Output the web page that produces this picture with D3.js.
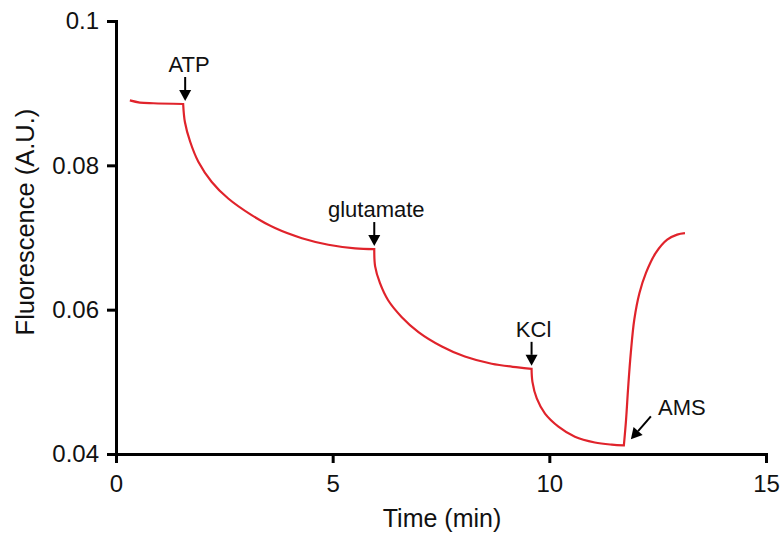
<!DOCTYPE html>
<html>
<head>
<meta charset="utf-8">
<script src="https://cdn.jsdelivr.net/npm/d3@7"></script>
<style>
  html, body { margin: 0; padding: 0; background: #fff; }
  svg { display: block; font-family: "Liberation Sans", Arial, Helvetica, sans-serif; }
</style>
</head>
<body>
<svg id="chart" width="781" height="533"></svg>
<script>
// Fluorescence trace (time in min, fluorescence in A.U.)
const timeMin = [
  0.32, 0.55, 0.86, 1.55,
  1.59, 1.71, 1.90, 2.21, 2.59, 3.13, 3.67, 4.29, 4.90, 5.52, 5.96,
  5.98, 6.09, 6.28, 6.59, 6.98, 7.52, 8.05, 8.67, 9.28, 9.59,
  9.61, 9.71, 9.90, 10.21, 10.59, 11.05, 11.44, 11.72,
  11.77, 11.82, 11.88, 11.96, 12.08, 12.23, 12.46, 12.72, 12.95, 13.13
];
const fluorescence = [
  0.0890, 0.0887, 0.0886, 0.0885,
  0.0860, 0.0833, 0.0805, 0.0777, 0.0754, 0.0731, 0.0713, 0.0699, 0.0690, 0.0685, 0.0684,
  0.0660, 0.0637, 0.0613, 0.0590, 0.0569, 0.0549, 0.0535, 0.0525, 0.0520, 0.0518,
  0.0500, 0.0477, 0.0456, 0.0438, 0.0424, 0.0416, 0.0413, 0.0412,
  0.0447, 0.0493, 0.0540, 0.0586, 0.0623, 0.0651, 0.0679, 0.0697, 0.0704, 0.0706
];

// Additions marked on the trace
const eventLabels = ["ATP", "glutamate", "KCl", "AMS"];
const eventTimes  = [1.55, 5.96, 9.59, 11.72];
const eventValues = [0.0885, 0.0684, 0.0518, 0.0412];

// Axis ticks
const xTicks = [0, 5, 10, 15];
const yTicks = [0.04, 0.06, 0.08, 0.1];
const yTickLabels = ["0.04", "0.06", "0.08", "0.1"];

const svg = d3.select("#chart");

const x = d3.scaleLinear().domain([0, 15]).range([116, 766]);
const y = d3.scaleLinear().domain([0.04, 0.1]).range([454, 21]);

// Axes
const xAxis = d3.axisBottom(x)
  .tickValues(xTicks)
  .tickFormat(d3.format("d"))
  .tickSize(9)
  .tickSizeOuter(0)
  .tickPadding(12);

const yAxis = d3.axisLeft(y)
  .tickValues(yTicks)
  .tickFormat((d, i) => yTickLabels[i])
  .tickSize(9)
  .tickSizeOuter(0)
  .tickPadding(8);

const gx = svg.append("g").attr("transform", `translate(0,${y.range()[0]})`).call(xAxis);
const gy = svg.append("g").attr("transform", `translate(${x.range()[0]},0)`).call(yAxis);

[gx, gy].forEach(g => {
  g.select(".domain").attr("stroke", "#000").attr("stroke-width", 3).attr("stroke-linecap", "square");
  g.selectAll(".tick line").attr("stroke", "#000").attr("stroke-width", 3);
  g.selectAll(".tick text")
    .attr("fill", "#111")
    .style("font-size", "24px")
    .style("font-family", "'Liberation Sans', Arial, sans-serif");
});

// Axis titles
svg.append("text")
  .attr("x", 442).attr("y", 527)
  .attr("text-anchor", "middle")
  .style("font-size", "25px")
  .attr("fill", "#111")
  .text("Time (min)");

svg.append("text")
  .attr("transform", "translate(34,222) rotate(-90)")
  .attr("text-anchor", "middle")
  .style("font-size", "25.5px")
  .attr("fill", "#111")
  .text("Fluorescence (A.U.)");

// Trace: split at each addition so each phase is a smooth arc with a sharp corner
const pts = timeMin.map((t, i) => [t, fluorescence[i]]);
const breaks = eventTimes.map(t => timeMin.indexOf(t));
const segments = [];
let start = 0;
breaks.forEach(b => { segments.push(pts.slice(start, b + 1)); start = b; });
segments.push(pts.slice(start));

const line = d3.line()
  .x(d => x(d[0]))
  .y(d => y(d[1]))
  .curve(d3.curveCatmullRom.alpha(0.5));

svg.append("path")
  .attr("fill", "none")
  .attr("stroke", "#e0232b")
  .attr("stroke-width", 2.2)
  .attr("stroke-linejoin", "miter")
  .attr("d", segments.map((s, i) => {
    const d = line(s);
    return i === 0 ? d : "L" + d.slice(1);
  }).join(""));

// Arrow markers
function arrow(x1, y1, x2, y2) {
  const ang = Math.atan2(y2 - y1, x2 - x1);
  const hl = 11, hw = 6;
  const bx = x2 - hl * Math.cos(ang), by = y2 - hl * Math.sin(ang);
  svg.append("line")
    .attr("x1", x1).attr("y1", y1).attr("x2", bx).attr("y2", by)
    .attr("stroke", "#000").attr("stroke-width", 2);
  const px = -Math.sin(ang) * hw, py = Math.cos(ang) * hw;
  svg.append("path")
    .attr("d", `M${x2},${y2}L${bx + px},${by + py}L${bx - px},${by - py}Z`)
    .attr("fill", "#000");
}

eventLabels.forEach((lab, i) => {
  const ex = x(eventTimes[i]);
  const ey = y(eventValues[i]);
  if (lab === "AMS") {
    arrow(ex + 27, ey - 29, ex + 7, ey - 6);
    svg.append("text")
      .attr("x", ex + 58).attr("y", ey - 30)
      .attr("text-anchor", "middle")
      .style("font-size", "22px")
      .attr("fill", "#111")
      .text(lab);
  } else {
    const ax = ex + (lab === "ATP" ? 2 : 0);
    arrow(ax, ey - 27, ax, ey - 3);
    svg.append("text")
      .attr("x", ax + (lab === "ATP" ? 4 : 2)).attr("y", ey - 32)
      .attr("text-anchor", "middle")
      .style("font-size", "22px")
      .attr("fill", "#111")
      .text(lab);
  }
});
</script>
</body>
</html>
